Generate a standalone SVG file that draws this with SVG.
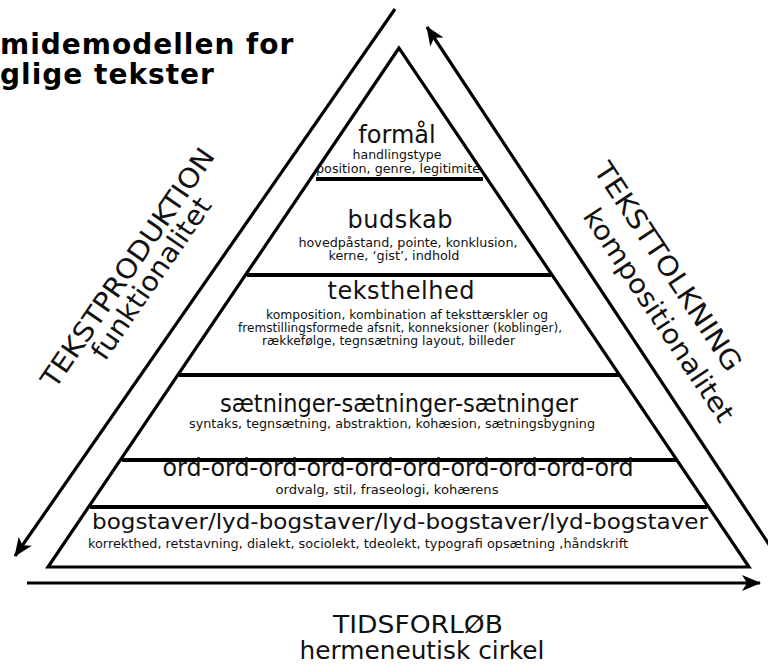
<svg xmlns="http://www.w3.org/2000/svg" width="768" height="664" viewBox="0 0 768 664">
<defs>
<style>
.t{font-family:"DejaVu Sans","Liberation Sans",sans-serif;fill:#111;}
.big{font-size:24px;text-anchor:middle;}
.sm{font-size:11.5px;text-anchor:middle;}
.sml{font-size:11.5px;}
.side{font-size:27px;}
.title{font-family:"DejaVu Sans","Liberation Sans",sans-serif;font-weight:bold;font-size:28px;fill:#000;letter-spacing:1px;}
.div{stroke:#000;stroke-width:4;}
.ln{stroke:#000;stroke-width:3.2;fill:none;}
</style>
<marker id="ah" viewBox="-19 -9 21 18" markerWidth="21" markerHeight="18" refX="0" refY="0" orient="auto" markerUnits="userSpaceOnUse">
<path d="M1,0 L-18,-8 L-13,0 L-18,8 Z" fill="#000"/>
</marker>
</defs>
<rect width="768" height="664" fill="#fff"/>
<g id="title">
<text class="title" x="0" y="54">midemodellen for</text>
<text class="title" x="0" y="84">glige tekster</text>
</g>
<g id="connectors">
<line class="ln" x1="395" y1="9" x2="15" y2="556" marker-end="url(#ah)"/>
<line class="ln" x1="772" y1="549" x2="427" y2="27" marker-end="url(#ah)"/>
<line class="ln" x1="27" y1="583" x2="760" y2="583" stroke-width="4" marker-end="url(#ah)"/>
</g>
<g id="pyramid">
<polygon class="ln" points="399,48 48,567 749,567" stroke-width="3.5"/>
</g>
<g id="layer-formaal">
<line class="div" x1="316" y1="179" x2="483" y2="179" stroke-width="3.5"/>
<text class="t big" x="397" y="143">formål</text>
<text class="t sm" x="397" y="159" textLength="89" lengthAdjust="spacingAndGlyphs">handlingstype</text>
<text class="t sm" x="398" y="173" textLength="164" lengthAdjust="spacingAndGlyphs">position, genre, legitimite</text>
</g>
<g id="layer-budskab">
<line class="div" x1="247" y1="275" x2="551" y2="275"/>
<text class="t big" x="400" y="228" textLength="105" font-size="25">budskab</text>
<text class="t sm" x="408" y="247" textLength="219" lengthAdjust="spacingAndGlyphs">hovedpåstand, pointe, konklusion,</text>
<text class="t sm" x="394" y="260" textLength="131" lengthAdjust="spacingAndGlyphs">kerne, ‘gist’, indhold</text>
</g>
<g id="layer-teksthelhed">
<line class="div" x1="179" y1="375" x2="619" y2="375"/>
<text class="t big" x="401" y="299" textLength="147" font-size="25">teksthelhed</text>
<text class="t sml" x="266" y="319" textLength="282" lengthAdjust="spacingAndGlyphs">komposition, kombination af  teksttærskler og</text>
<text class="t sml" x="238" y="332" textLength="324" lengthAdjust="spacingAndGlyphs">fremstillingsformede afsnit, konneksioner (koblinger),</text>
<text class="t sml" x="262" y="345" textLength="253" lengthAdjust="spacingAndGlyphs">rækkefølge, tegnsætning layout, billeder</text>
</g>
<g id="layer-saetninger">
<line class="div" x1="122" y1="460" x2="676" y2="460"/>
<text class="t big" x="399" y="412" font-size="23" textLength="358" lengthAdjust="spacingAndGlyphs">sætninger-sætninger-sætninger</text>
<text class="t sm" x="392" y="428" textLength="406" lengthAdjust="spacingAndGlyphs">syntaks, tegnsætning, abstraktion, kohæsion, sætningsbygning</text>
</g>
<g id="layer-ord">
<line class="div" x1="90" y1="507" x2="707" y2="507"/>
<text class="t big" x="398" y="476" font-size="20" textLength="471" lengthAdjust="spacingAndGlyphs">ord-ord-ord-ord-ord-ord-ord-ord-ord-ord</text>
<text class="t sm" x="387" y="494" font-size="11" textLength="223" lengthAdjust="spacingAndGlyphs">ordvalg, stil, fraseologi,  kohærens</text>
</g>
<g id="layer-bogstaver">
<text class="t" x="92" y="529" font-size="21" textLength="616" lengthAdjust="spacingAndGlyphs">bogstaver/lyd-bogstaver/lyd-bogstaver/lyd-bogstaver</text>
<text class="t sml" x="88" y="548" textLength="540" lengthAdjust="spacingAndGlyphs">korrekthed, retstavning, dialekt, sociolekt, tdeolekt, typografi opsætning ,håndskrift</text>
</g>
<g id="label-tekstproduktion">
<text class="t side" transform="translate(55,390) rotate(-55.5)" textLength="284" lengthAdjust="spacingAndGlyphs">TEKSTPRODUKTION</text>
<text class="t side" transform="translate(105,362) rotate(-55.5)" textLength="190" lengthAdjust="spacingAndGlyphs">funktionalitet</text>
</g>
<g id="label-tekstfortolkning">
<text class="t side" transform="translate(593,170) rotate(56.5)" textLength="244" lengthAdjust="spacingAndGlyphs">TEKSTTOLKNING</text>
<text class="t side" transform="translate(582,216) rotate(56.5)" textLength="250" lengthAdjust="spacingAndGlyphs">kompositionalitet</text>
</g>
<g id="label-tid">
<text class="t" x="418" y="633" font-size="25" text-anchor="middle" textLength="170" lengthAdjust="spacingAndGlyphs">TIDSFORLØB</text>
<text class="t" x="422" y="659" font-size="24" text-anchor="middle" textLength="245" lengthAdjust="spacingAndGlyphs">hermeneutisk cirkel</text>
</g>
</svg>
